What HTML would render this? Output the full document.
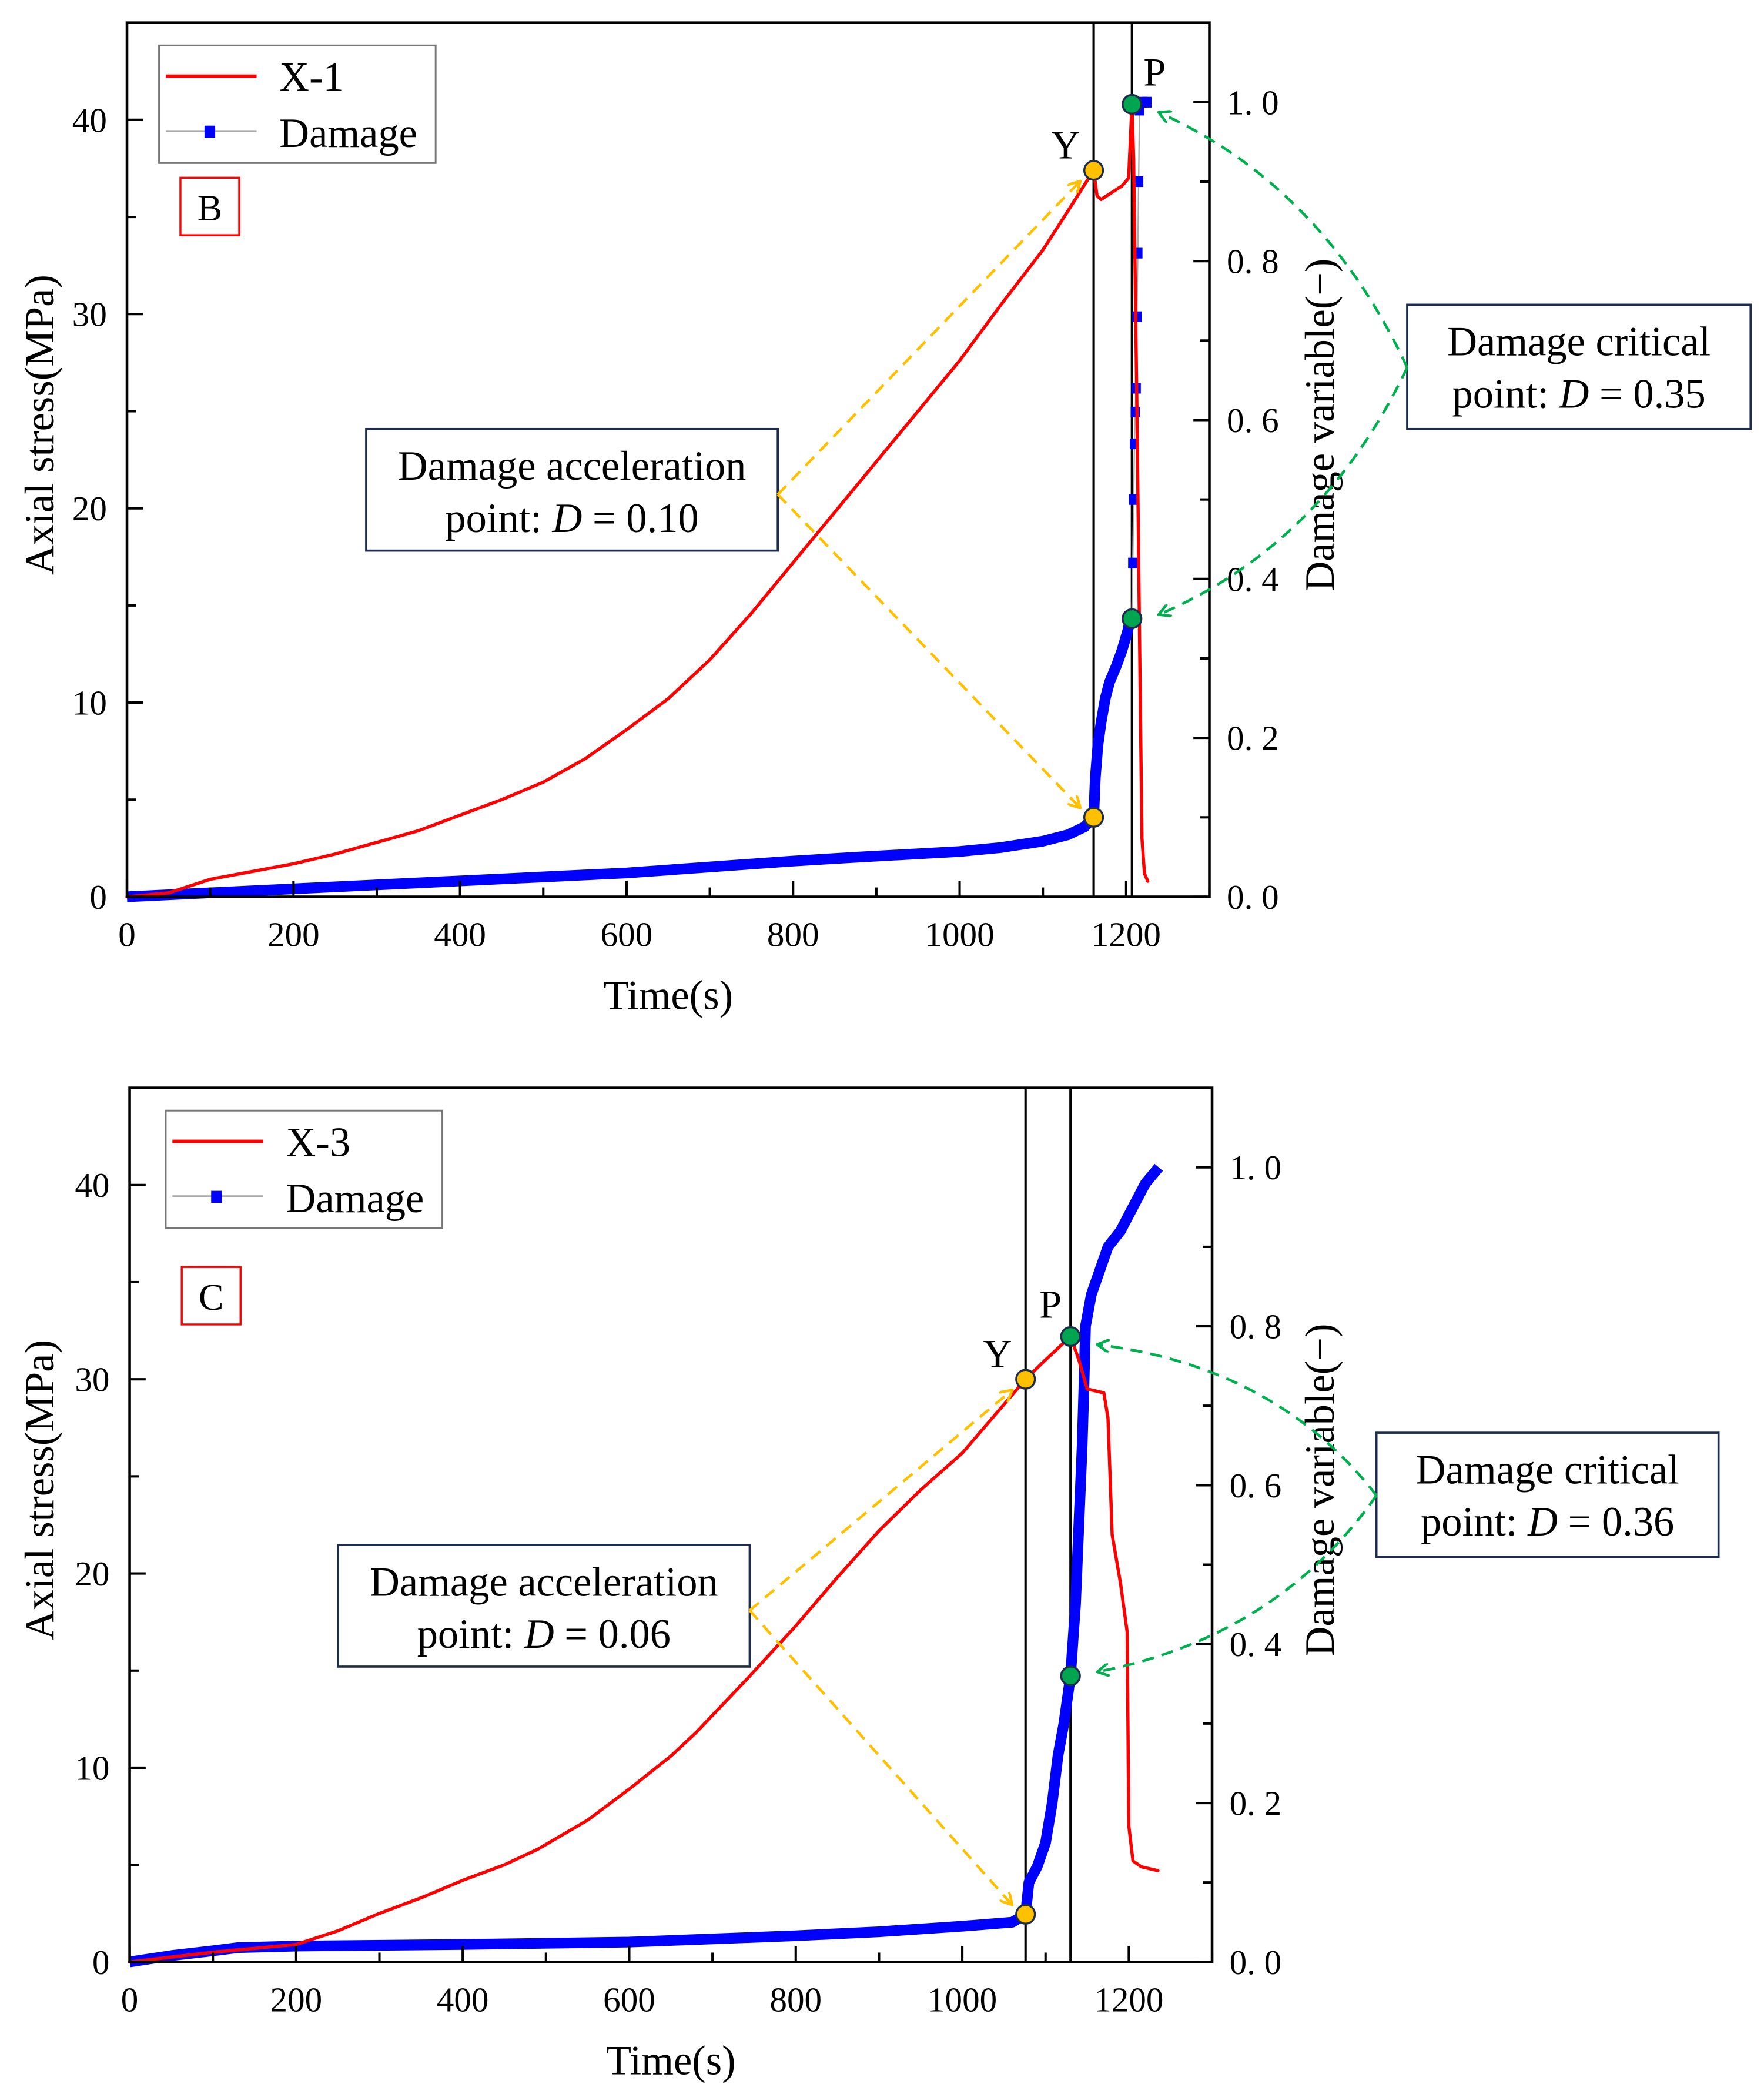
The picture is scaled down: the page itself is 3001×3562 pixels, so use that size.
<!DOCTYPE html>
<html><head><meta charset="utf-8"><style>
html,body{margin:0;padding:0;background:#fff}
svg{display:block}
text{font-family:"Liberation Serif","Times New Roman",serif;fill:#000}
</style></head><body>
<svg id="fig" width="3001" height="3562" viewBox="0 0 1320 1566.8" xmlns="http://www.w3.org/2000/svg">
<defs>
<marker id="arO" markerWidth="10" markerHeight="10" refX="9" refY="5" orient="auto" markerUnits="userSpaceOnUse"><path d="M0,0 L9,5 L0,10" fill="none" stroke="#FFC000" stroke-width="2"/></marker>
<marker id="arG" markerWidth="10" markerHeight="10" refX="9" refY="5" orient="auto" markerUnits="userSpaceOnUse"><path d="M0,0 L9,5 L0,10" fill="none" stroke="#00B050" stroke-width="2"/></marker>
</defs>
</svg>
<script>
// ---- data: panel B (X-1) ----
const b_stressT = [0,50,100,150,200,250,300,350,400,450,500,550,600,650,700,750,800,850,900,950,1000,1050,1100,1130,1161,1165,1170,1195,1203,1207,1209,1213,1217,1219,1222,1226];
const b_stressV = [0,0.2,0.9,1.3,1.7,2.2,2.8,3.4,4.2,5.0,5.9,7.1,8.6,10.2,12.2,14.6,17.2,19.8,22.4,25.0,27.6,30.5,33.3,35.3,37.4,36.1,35.9,36.6,37.0,40.8,38,25,10,3,1.2,0.8];
const b_damT = [0,100,200,400,600,800,880,1000,1050,1100,1130,1150,1161,1163,1166,1170,1175,1180,1188,1195,1202,1207];
const b_damV = [0,0.005,0.01,0.02,0.03,0.045,0.05,0.057,0.062,0.07,0.078,0.088,0.10,0.15,0.19,0.22,0.25,0.27,0.29,0.31,0.335,0.36];
const b_damSparseT = [1208,1209,1210,1211,1212,1213,1214,1215,1216,1220,1225];
const b_damSparseV = [0.42,0.5,0.57,0.61,0.64,0.73,0.81,0.9,0.99,1.0,1.0];
// ---- data: panel C (X-3) ----
const c_stressT = [0,100,200,250,300,350,400,450,490,550,600,650,680,740,800,850,900,950,1000,1040,1076,1100,1120,1130,1140,1150,1170,1175,1180,1190,1198,1200,1205,1215,1235];
const c_stressV = [0,0.5,0.9,1.6,2.5,3.3,4.2,5.0,5.8,7.3,8.9,10.6,11.8,14.5,17.3,19.8,22.2,24.3,26.2,28.2,30.0,31.0,31.8,32.2,31.0,29.5,29.3,28,22,19.5,17,7,5.2,4.9,4.7];
const c_damT = [0,50,100,130,200,400,600,800,900,1000,1060,1076,1080,1090,1100,1108,1115,1122,1130,1136,1140,1144,1146,1148,1155,1165,1175,1190,1205,1220,1236];
const c_damV = [0,0.008,0.014,0.018,0.02,0.022,0.025,0.033,0.038,0.045,0.05,0.06,0.1,0.12,0.15,0.2,0.26,0.3,0.36,0.45,0.55,0.65,0.72,0.8,0.84,0.87,0.9,0.92,0.95,0.98,1.0];
// ticks
const xTicks = [0,200,400,600,800,1000,1200];
const yTicks = [0,10,20,30,40];
const rTicks = [0,0.2,0.4,0.6,0.8,1.0];
const rTickLabels = ["0. 0","0. 2","0. 4","0. 6","0. 8","1. 0"];

const NS="http://www.w3.org/2000/svg";
const svg=document.getElementById('fig');
function mk(tag,attrs,parent){const e=document.createElementNS(NS,tag);for(const k in attrs)e.setAttribute(k,attrs[k]);(parent||svg).appendChild(e);return e;}

function panel(P){
  const g=mk('g',{});
  
  
  const X=t=>P.L+(t/1300)*(P.R-P.L);
  const Y=v=>P.B-(v/45)*(P.B-P.T);
  const YD=d=>P.B-(d/1.1)*(P.B-P.T);
  [P.yieldT,P.peakT].forEach((t,i)=>{
    const l=mk('line',{x1:X(t),x2:X(t),y1:P.T,y2:P.B,stroke:'#000','stroke-width':1.8},g);
    
    
  });
  const dp=P.damT.map((t,i)=>X(t)+','+YD(P.damV[i])).join(' ');
  const dl=mk('polyline',{points:dp,fill:'none',stroke:'#0000ff','stroke-width':8,'stroke-linejoin':'round'},g);
  
  
  if(P.sT){
    const sp=[[P.damT[P.damT.length-1],P.damV[P.damV.length-1]]].concat(P.sT.map((t,i)=>[t,P.sV[i]]));
    const gl=mk('polyline',{points:sp.map(p=>X(p[0])+','+YD(p[1])).join(' '),fill:'none',stroke:'#aaa','stroke-width':1},g);
    
    
    P.sT.forEach((t,i)=>{
      const r=mk('rect',{x:X(t)-3.5,y:YD(P.sV[i])-4,width:7,height:8,fill:'#0000ff'},g);
      
      
    });
  }
  const spts=P.sTt.map((t,i)=>X(t)+','+Y(P.sVv[i])).join(' ');
  const sl=mk('polyline',{points:spts,fill:'none',stroke:'#ff0000','stroke-width':2.4,'stroke-linejoin':'round','stroke-linecap':'round'},g);
  
  
  const fr=mk('rect',{x:P.L,y:P.T,width:P.R-P.L,height:P.B-P.T,fill:'none',stroke:'#000','stroke-width':2},g);
  
  
  for(let t=0;t<=1300;t+=100){
    const maj=t%200===0;
    const tk=mk('line',{x1:X(t),x2:X(t),y1:P.B,y2:P.B-(maj?12:7),stroke:'#000','stroke-width':1.8},g);
    
    
  }
  xTicks.forEach(t=>{
    const tx=mk('text',{x:X(t),y:P.B+37,'font-size':26,'text-anchor':'middle'},g);tx.textContent=t;
    
    
  });
  for(let v=0;v<=45;v+=5){
    const maj=v%10===0;
    const tk=mk('line',{x1:P.L,x2:P.L+(maj?12:7),y1:Y(v),y2:Y(v),stroke:'#000','stroke-width':1.8},g);
    
    
  }
  yTicks.forEach(v=>{
    const tx=mk('text',{x:P.L-15,y:Y(v)+9,'font-size':26,'text-anchor':'end'},g);tx.textContent=v;
    
    
  });
  for(let k=0;k<=11;k++){
    const d=k/10, maj=k%2===0;
    const tk=mk('line',{x1:P.R,x2:P.R-(maj?12:7),y1:YD(d),y2:YD(d),stroke:'#000','stroke-width':1.8},g);
    
    
  }
  rTicks.forEach((d,i)=>{
    const tx=mk('text',{x:P.R+13,y:YD(d)+9,'font-size':26},g);tx.textContent=rTickLabels[i];
    
    
  });
  const xt=mk('text',{x:(P.L+P.R)/2,y:P.B+84,'font-size':31,'text-anchor':'middle'},g);xt.textContent='Time(s)';
  
  
  const cy=(P.T+P.B)/2-(P.B-P.T)*0.04;
  const yt=mk('text',{x:0,y:0,'font-size':31,'text-anchor':'middle',transform:`translate(40,${cy}) rotate(-90)`},g);yt.textContent='Axial stress(MPa)';
  
  
  const rt=mk('text',{x:0,y:0,'font-size':31,'text-anchor':'middle',transform:`translate(998,${cy}) rotate(-90)`},g);rt.textContent='Damage variable(−)';
  
  
  const lg=mk('rect',{x:P.lgX,y:P.T+17,width:207,height:88,fill:'#fff',stroke:'#777','stroke-width':1.3},g);
  
  
  const l1=mk('line',{x1:P.lgX+5,x2:P.lgX+73,y1:P.T+40,y2:P.T+40,stroke:'#ff0000','stroke-width':2.5},g);
  
  
  const t1=mk('text',{x:P.lgX+90,y:P.T+51,'font-size':31},g);t1.textContent=P.sample;
  
  
  const l2=mk('line',{x1:P.lgX+5,x2:P.lgX+73,y1:P.T+81,y2:P.T+81,stroke:'#aaa','stroke-width':1.3},g);
  
  
  const sq=mk('rect',{x:P.lgX+34,y:P.T+77,width:8,height:9,fill:'#0000ff'},g);
  
  
  const t2=mk('text',{x:P.lgX+90,y:P.T+93,'font-size':31},g);t2.textContent='Damage';
  
  
  const pb=mk('rect',{x:P.tagX,y:P.tagY,width:44,height:43,fill:'none',stroke:'#ff0000','stroke-width':1.5},g);
  
  
  const pt=mk('text',{x:P.tagX+22,y:P.tagY+32,'font-size':28,'text-anchor':'middle'},g);pt.textContent=P.tag;
  
  
  function box(x,y,w,h,l1,dval,nm){
    const r=mk('rect',{x,y,width:w,height:h,fill:'#fff',stroke:'#1f2d4d','stroke-width':1.6},g);
    
    
    const a=mk('text',{x:x+w/2,y:y+38,'font-size':31,'text-anchor':'middle'},g);a.textContent=l1;
    
    
    const b=mk('text',{x:x+w/2,y:y+77,'font-size':31,'text-anchor':'middle'},g);
    
    
    b.innerHTML='point: <tspan font-style="italic">D</tspan> = '+dval;
  }
  box(P.b1x,P.b1y,308,91,'Damage acceleration',P.accD,'acceleration-annotation');
  box(P.b2x,P.b2y,P.b2w,93,'Damage critical',P.critD,'critical-annotation');
  const ax=P.b1x+308, ay=P.b1y+49;
  const yP=[X(P.yieldT),Y(P.yieldS)], aP=[X(P.yieldT),YD(P.accD)];
  const pP=[X(P.peakT),Y(P.peakS)], cP=[X(P.peakT),YD(P.critD)];
  [[yP,'yield-arrow'],[aP,'acceleration-arrow']].forEach(([p,n])=>{
    const ex=p[0]-10, ey=p[1]+(p[1]<ay?8:-7);
    const l=mk('line',{x1:ax,y1:ay,x2:ex,y2:ey,stroke:'#FFC000','stroke-width':2,'stroke-dasharray':'9 6','marker-end':'url(#arO)'},g);
    
    
  });
  const gx=P.b2x, gy=P.b2y+47;
  [[pP,'peak-arrow'],[cP,'critical-arrow']].forEach(([p,n])=>{
    const ex=p[0]+20, ey=p[1]+(p[1]<gy?6:-3);
    const cx=(gx+ex)/2+30, cyy=(gy+ey)/2+(ey<gy?-40:40);
    const l=mk('path',{d:`M${gx},${gy} Q${cx},${cyy} ${ex},${ey}`,fill:'none',stroke:'#00B050','stroke-width':2,'stroke-dasharray':'9 6','marker-end':'url(#arG)'},g);
    
    
  });
  [[yP,'#FFC000','yield-point'],[aP,'#FFC000','acceleration-point'],[pP,'#00A550','peak-point'],[cP,'#00A550','critical-point']].forEach(([p,c,n])=>{
    const ci=mk('circle',{cx:p[0],cy:p[1],r:7,fill:c,stroke:'#1f2d4d','stroke-width':1.5},g);
    
    
  });
  const ty=mk('text',{x:yP[0]-21,y:yP[1]-9,'font-size':30,'text-anchor':'middle'},g);ty.textContent='Y';
  
  
  const tp=mk('text',{x:pP[0]+P.pdx,y:pP[1]-14,'font-size':30,'text-anchor':'middle'},g);tp.textContent='P';
  
  
}

panel({name:'panel-b',L:95,R:905,T:17,B:671,sample:'X-1',tag:'B',tagX:135,tagY:133,lgX:119,
  sTt:b_stressT,sVv:b_stressV,damT:b_damT,damV:b_damV,sT:b_damSparseT,sV:b_damSparseV,
  yieldT:1161,yieldS:37.4,peakT:1207,peakS:40.8,accD:'0.10',critD:'0.35',
  b1x:274,b1y:321,b2x:1053,b2y:228,b2w:257,pdx:17});
panel({name:'panel-c',L:97,R:907,T:814,B:1468,sample:'X-3',tag:'C',tagX:136,tagY:948,lgX:124,
  sTt:c_stressT,sVv:c_stressV,damT:c_damT,damV:c_damV,
  yieldT:1076,yieldS:30.0,peakT:1130,peakS:32.2,accD:'0.06',critD:'0.36',
  b1x:253,b1y:1156,b2x:1030,b2y:1072,b2w:256,pdx:-15});
</script>
</body></html>
